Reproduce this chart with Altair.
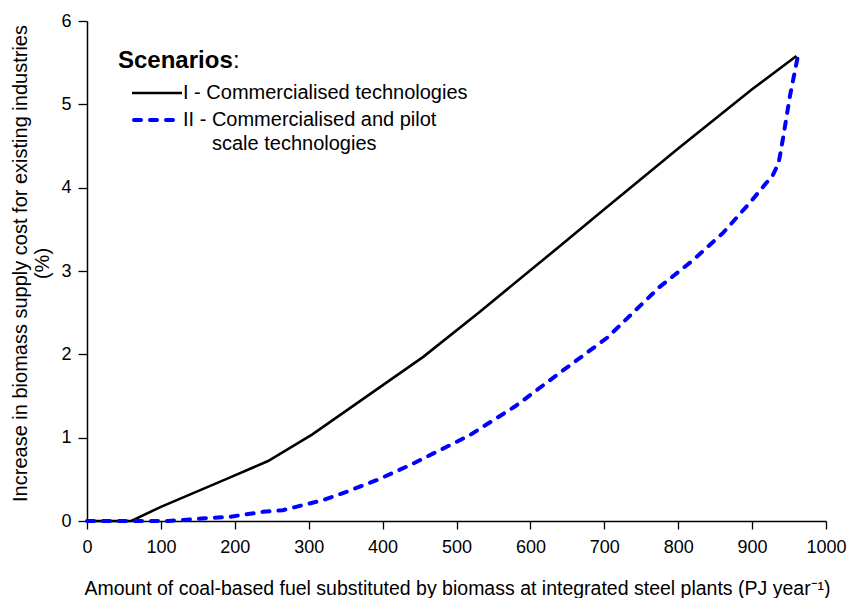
import altair as alt
import pandas as pd

# Scenario I: commercialised technologies
s1_x = [0, 60, 100, 193, 245, 305, 455, 530, 640, 700, 800, 900, 960]
s1_y = [0, 0, 0.17, 0.52, 0.72, 1.04, 1.97, 2.5, 3.3, 3.74, 4.47, 5.18, 5.58]

# Scenario II: commercialised and pilot scale technologies
s2_x = [0, 110, 155, 193, 238, 265, 292, 319, 351, 392, 437, 482, 518, 580, 640, 704,
        775, 820, 861, 897, 928, 936, 942, 951, 962]
s2_y = [0, 0, 0.03, 0.05, 0.11, 0.13, 0.19, 0.25, 0.35, 0.49, 0.67, 0.87, 1.03, 1.38, 1.78, 2.2,
        2.81, 3.13, 3.46, 3.82, 4.15, 4.3, 4.6, 5.09, 5.58]

x_ticks = list(range(0, 1001, 50))
y_ticks = [i * 0.5 for i in range(13)]

legend_title = "Scenarios"
legend_labels = ["I - Commercialised technologies", "II - Commercialised and pilot", "scale technologies"]

FONT = "Liberation Sans"

df1 = pd.DataFrame({"x": s1_x, "y": s1_y})
df2 = pd.DataFrame({"x": s2_x, "y": s2_y})

x_scale = alt.Scale(domain=[0, 1000], nice=False, zero=False)
y_scale = alt.Scale(domain=[0, 6], nice=False)

x_axis = alt.Axis(
    values=x_ticks,
    format="d",
    labelExpr="datum.value % 100 === 0 ? datum.label : ''",
    tickSize={"condition": {"test": "datum.value % 100 === 0", "value": 8}, "value": 4},
    labelOverlap=False,
    labelFlush=False,
    grid=False,
    domainColor="black",
    domainWidth=1.5,
    tickColor="black",
    tickWidth=1.3,
    labelFont=FONT,
    labelFontSize=18,
    labelColor="black",
    labelPadding=9,
    title="Amount of coal-based fuel substituted by biomass at integrated steel plants (PJ year\u207b\u00b9)",
    titleFont=FONT,
    titleFontSize=19.5,
    titleFontWeight="normal",
    titleColor="black",
    titleX=370,
    titleY=67,
    titleAlign="center",
    titleBaseline="middle",
)

y_axis = alt.Axis(
    values=y_ticks,
    format="d",
    labelExpr="datum.value % 1 === 0 ? datum.label : ''",
    tickSize={"condition": {"test": "datum.value % 1 === 0", "value": 9}, "value": 5},
    labelOverlap=False,
    labelFlush=False,
    grid=False,
    domainColor="black",
    domainWidth=1.5,
    tickColor="black",
    tickWidth=1.3,
    labelFont=FONT,
    labelFontSize=18,
    labelColor="black",
    labelPadding=7,
    title=["Increase in biomass supply cost for existing industries", "(%)"],
    titleFont=FONT,
    titleFontSize=20,
    titleFontWeight="normal",
    titleColor="black",
    titleAngle=-90,
    titleX=-67,
    titleY=242,
    titleAlign="center",
    titleBaseline="middle",
    titleLineHeight=22,
)

line1 = alt.Chart(df1).mark_line(color="black", strokeWidth=2.6).encode(
    x=alt.X("x:Q", scale=x_scale, axis=x_axis),
    y=alt.Y("y:Q", scale=y_scale, axis=y_axis),
)

line2 = alt.Chart(df2).mark_line(
    color="#0000ff", strokeWidth=4, strokeDash=[7, 9], strokeCap="round"
).encode(
    x=alt.X("x:Q", scale=x_scale),
    y=alt.Y("y:Q", scale=y_scale),
)

# Legend block in the upper-left corner
anchor = pd.DataFrame({"a": [0]})

leg_title = alt.Chart(anchor).mark_text(
    text=legend_title, font=FONT, fontSize=24, fontWeight="bold",
    align="left", baseline="middle", color="black",
).encode(x=alt.value(31), y=alt.value(40))

leg_colon = alt.Chart(anchor).mark_text(
    text=":", font=FONT, fontSize=24, align="left", baseline="middle", color="black",
).encode(x=alt.value(146), y=alt.value(40))

leg_line1 = alt.Chart(anchor).mark_rule(color="black", strokeWidth=2.6).encode(
    x=alt.value(45), x2=alt.value(95), y=alt.value(72)
)
leg_line2 = alt.Chart(anchor).mark_rule(
    color="#0000ff", strokeWidth=4, strokeDash=[7, 9], strokeCap="round"
).encode(x=alt.value(47), x2=alt.value(94), y=alt.value(99))

leg_text1 = alt.Chart(anchor).mark_text(
    text=legend_labels[0], font=FONT, fontSize=20, align="left", baseline="middle", color="black"
).encode(x=alt.value(96), y=alt.value(72))
leg_text2 = alt.Chart(anchor).mark_text(
    text=legend_labels[1], font=FONT, fontSize=20, align="left", baseline="middle", color="black"
).encode(x=alt.value(96), y=alt.value(99))
leg_text3 = alt.Chart(anchor).mark_text(
    text=legend_labels[2], font=FONT, fontSize=20, align="left", baseline="middle", color="black"
).encode(x=alt.value(125), y=alt.value(123))

chart = alt.layer(
    line1, line2, leg_title, leg_colon, leg_line1, leg_line2, leg_text1, leg_text2, leg_text3
).properties(
    width=739,
    height=500,
    autosize=alt.AutoSizeParams(type="none"),
    padding={"left": 87, "top": 21, "right": 22, "bottom": 77},
    background="white",
).configure_view(stroke=None)

chart.save("out.html", embed_options={"renderer": "svg", "actions": False})
